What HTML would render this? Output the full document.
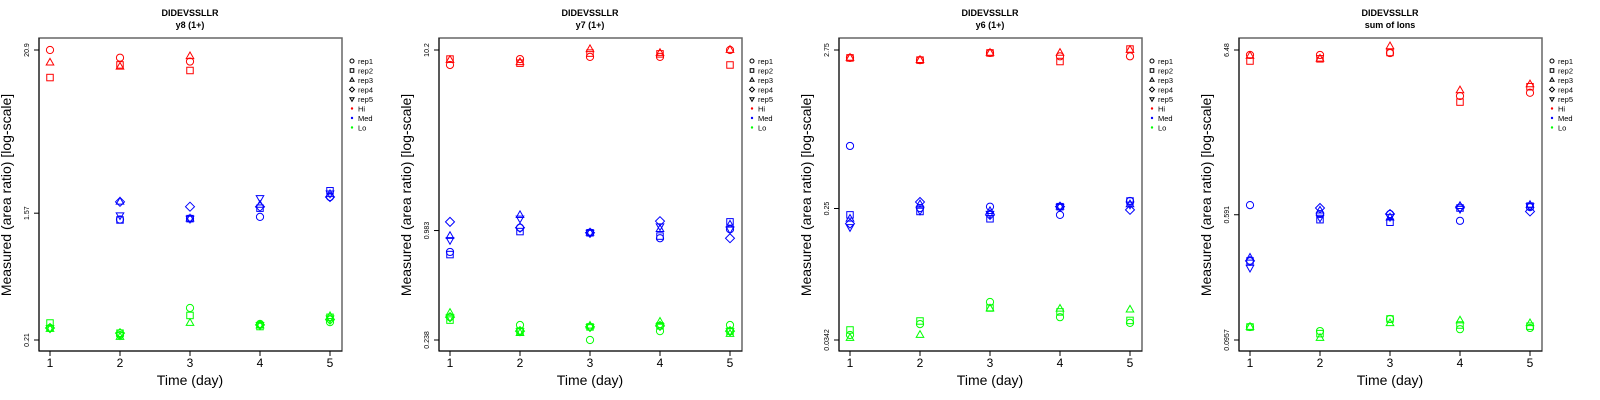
<!DOCTYPE html>
<html><head><meta charset="utf-8">
<style>
html,body{margin:0;padding:0;background:#fff;}
svg{display:block;font-family:"Liberation Sans",sans-serif;}
</style></head>
<body>
<svg id="chart" width="1600" height="400" viewBox="0 0 1600 400" xmlns="http://www.w3.org/2000/svg"></svg>
<script>
// ---- data ----
const days = [1, 2, 3, 4, 5];
const reps = ["rep1", "rep2", "rep3", "rep4", "rep5"];
const levels = ["Hi", "Med", "Lo"];
const panelTitles = ["y8 (1+)", "y7 (1+)", "y6 (1+)", "sum of Ions"];
const panelTicks = [[0.21, 1.57, 20.9], [0.238, 0.983, 10.2], [0.0342, 0.25, 2.75], [0.0957, 0.591, 6.48]];
const panelTickLabels = [["0.21", "1.57", "20.9"], ["0.238", "0.983", "10.2"], ["0.0342", "0.25", "2.75"], ["0.0957", "0.591", "6.48"]];
// values[day][rep]
const p1Hi = [[20.9,13.5,17.1,null,null],[18.5,16.5,16.0,null,null],[17.4,15.1,18.9,null,null],[null,null,null,null,null],[null,null,null,null,null]];
const p1Med = [[null,null,null,null,null],[1.42,1.41,1.88,1.88,1.52],[1.44,1.44,1.44,1.74,1.44],[1.48,1.70,1.79,1.74,2.0],[2.03,2.24,2.12,2.03,2.15]];
const p1Lo = [[0.254,0.275,0.25,0.254,0.254],[0.227,0.234,0.22,0.234,0.227],[0.349,0.31,0.275,null,null],[0.271,0.26,0.264,0.267,0.267],[0.279,0.301,0.306,0.29,0.296]];
const p2Hi = [[8.40,9.07,8.95,null,null],[9.07,8.6,8.7,null,null],[9.33,9.8,10.3,null,null],[9.33,9.7,9.8,null,null],[10.2,8.4,10.2,null,null]];
const p2Med = [[0.745,0.72,0.915,1.10,0.87],[1.02,0.97,1.20,1.02,1.15],[0.955,0.955,0.955,0.955,0.955],[0.89,0.915,1.0,1.11,1.04],[1.0,1.10,1.06,0.89,1.0]];
const p2Lo = [[0.32,0.308,0.338,0.32,0.32],[0.289,0.267,0.26,0.267,0.267],[0.238,0.282,0.286,0.282,0.282],[0.267,0.286,0.301,0.286,0.286],[0.289,0.267,0.257,0.267,0.267]];
const p3Hi = [[2.44,2.44,2.44,null,null],[2.36,2.36,2.36,null,null],[2.63,2.63,2.63,null,null],[2.5,2.31,2.63,null,null],[2.5,2.79,2.75,null,null]];
const p3Med = [[0.644,0.227,0.214,0.199,0.189],[0.252,0.239,0.266,0.276,0.243],[0.257,0.214,0.24,0.227,0.231],[0.227,0.257,0.257,0.257,0.257],[0.28,0.28,0.266,0.245,0.266]];
const p3Lo = [[0.0369,0.0398,0.0352,null,null],[0.0435,0.0456,0.0369,null,null],[0.0608,0.0555,0.055,null,null],[0.0483,0.0523,0.0548,null,null],[0.0443,0.046,0.0541,null,null]];
const p4Hi = [[6.03,5.52,5.95,null,null],[6.03,5.7,5.7,null,null],[6.2,6.25,6.83,null,null],[3.32,3.04,3.6,null,null],[3.48,3.8,3.93,null,null]];
const p4Med = [[0.68,0.302,0.316,0.302,0.274],[0.597,0.55,0.627,0.652,0.567],[0.597,0.53,0.567,0.597,0.574],[0.541,0.652,0.67,0.66,0.645],[0.66,0.67,0.68,0.62,0.67]];
const p4Lo = [[0.1156,0.1156,0.1156,null,null],[0.109,0.105,0.0985,null,null],[0.1299,0.1299,0.122,null,null],[0.112,0.119,0.127,null,null],[0.114,0.117,0.122,null,null]];
const panelData = [[p1Hi,p1Med,p1Lo],[p2Hi,p2Med,p2Lo],[p3Hi,p3Med,p3Lo],[p4Hi,p4Med,p4Lo]];
const levelColors = ["#ff0000", "#0000ff", "#00ff00"];

const NS = "http://www.w3.org/2000/svg";
const svg = document.getElementById("chart");
function mk(tag, attrs, parent, txt) {
  const e = document.createElementNS(NS, tag);
  for (const k in attrs) e.setAttribute(k, attrs[k]);
  if (txt !== undefined) e.textContent = txt;
  parent.appendChild(e);
  return e;
}
function marker(g, shape, cx, cy, color, s) {
  const st = {fill: "none", stroke: color, "stroke-width": 1};
  let e;
  if (shape === 0) e = mk("circle", Object.assign({cx: cx, cy: cy, r: s}, st), g);
  else if (shape === 1) e = mk("rect", Object.assign({x: cx - s*0.9, y: cy - s*0.9, width: s*1.8, height: s*1.8}, st), g);
  else if (shape === 2) e = mk("polygon", Object.assign({points: `${cx},${cy-s*1.2} ${cx-s*1.05},${cy+s*0.65} ${cx+s*1.05},${cy+s*0.65}`}, st), g);
  else if (shape === 3) e = mk("polygon", Object.assign({points: `${cx},${cy-s*1.25} ${cx+s*1.25},${cy} ${cx},${cy+s*1.25} ${cx-s*1.25},${cy}`}, st), g);
  else e = mk("polygon", Object.assign({points: `${cx},${cy+s*1.2} ${cx-s*1.05},${cy-s*0.65} ${cx+s*1.05},${cy-s*0.65}`}, st), g);
  return e;
}

panelData.forEach((pd, pi) => {
  const ox = pi * 400;
  const g = mk("g", {}, svg);
  
  
  const ticks = panelTicks[pi];
  const lo = ticks[0], hi = ticks[2];
  const yS = v => 340 - (Math.log(v / lo) / Math.log(hi / lo)) * 290;
  const xS = d => ox + 50 + (d - 1) * 70;

  const t1 = mk("text", {x: ox + 190, y: 16, "text-anchor": "middle", "font-size": 9, "font-weight": "bold"}, g, "DIDEVSSLLR");
  
  
  const t2 = mk("text", {x: ox + 190, y: 28, "text-anchor": "middle", "font-size": 9, "font-weight": "bold"}, g, panelTitles[pi]);
  
  

  const box = mk("rect", {x: ox + 39, y: 38, width: 303, height: 313, fill: "none", stroke: "#666", "stroke-width": 1.5}, g);
  
  
  const xa = mk("line", {x1: ox + 39, y1: 351, x2: ox + 342, y2: 351, stroke: "#000", "stroke-width": 1}, g);
  
  
  const ya = mk("line", {x1: ox + 39, y1: 38, x2: ox + 39, y2: 351, stroke: "#000", "stroke-width": 1}, g);
  
  

  days.forEach(d => {
    mk("line", {x1: xS(d), y1: 351, x2: xS(d), y2: 356, stroke: "#000"}, g);
    const tl = mk("text", {x: xS(d), y: 367, "text-anchor": "middle", "font-size": 12}, g, String(d));
    
    
  });
  ticks.forEach((v, ti) => {
    const y = yS(v);
    mk("line", {x1: ox + 34, y1: y, x2: ox + 39, y2: y, stroke: "#000"}, g);
    const tl = mk("text", {x: 0, y: 0, "text-anchor": "middle", "font-size": 7, transform: `translate(${ox + 29},${y}) rotate(-90)`}, g, panelTickLabels[pi][ti]);
    
    
  });
  const xt = mk("text", {x: ox + 190, y: 385, "text-anchor": "middle", "font-size": 14}, g, "Time (day)");
  
  
  const yt = mk("text", {x: 0, y: 0, "text-anchor": "middle", "font-size": 14, transform: `translate(${ox + 11},195) rotate(-90)`}, g, "Measured (area ratio) [log-scale]");
  
  

  pd.forEach((lev, li) => {
    lev.forEach((row, di) => {
      row.forEach((v, ri) => {
        if (v === null) return;
        const m = marker(g, ri, xS(days[di]), yS(v), levelColors[li], 3.6);
        
        
      });
    });
  });

  const lg = mk("g", {}, g);
  
  
  reps.forEach((r, ri) => {
    const y = 61 + ri * 9.5;
    marker(lg, ri, ox + 352, y, "#000", 2);
    const lt = mk("text", {x: ox + 358, y: y + 3, "font-size": 7.5}, lg, r);
    
    
  });
  levels.forEach((l, li) => {
    const y = 108.5 + li * 9.5;
    mk("circle", {cx: ox + 352, cy: y, r: 1.2, fill: levelColors[li]}, lg);
    const lt = mk("text", {x: ox + 358, y: y + 3, "font-size": 7.5}, lg, l);
    
    
  });
});
</script>
</body></html>
